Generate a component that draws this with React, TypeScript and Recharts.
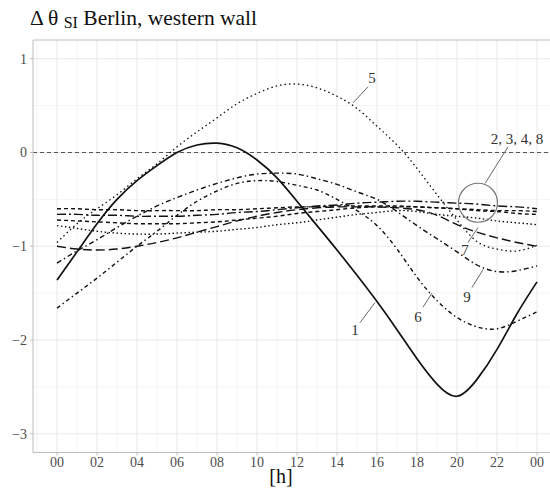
import { LineChart, Line, XAxis, YAxis, ReferenceLine, ReferenceDot } from "recharts";

const FONT = "'Liberation Serif', 'Times New Roman', Tinos, 'DejaVu Serif', serif";

// hours of the day
const hours = [0, 1, 2, 3, 4, 5, 6, 7, 8, 9, 10, 11, 12, 13, 14, 15, 16, 17, 18, 19, 20, 21, 22, 23, 24];

// Δθ_SI per variant
const v1 = [-1.36, -1.06, -0.76, -0.5, -0.3, -0.14, 0.0, 0.08, 0.1, 0.05, -0.08, -0.27, -0.52, -0.78, -1.04, -1.31, -1.59, -1.89, -2.2, -2.47, -2.6, -2.42, -2.1, -1.72, -1.38];
const v2 = [-0.6, -0.6, -0.61, -0.61, -0.62, -0.62, -0.62, -0.62, -0.61, -0.61, -0.6, -0.59, -0.58, -0.58, -0.57, -0.57, -0.57, -0.57, -0.58, -0.59, -0.6, -0.61, -0.62, -0.62, -0.63];
const v3 = [-0.66, -0.66, -0.67, -0.67, -0.68, -0.68, -0.68, -0.67, -0.66, -0.64, -0.63, -0.61, -0.59, -0.57, -0.56, -0.54, -0.53, -0.52, -0.52, -0.53, -0.54, -0.55, -0.57, -0.58, -0.6];
const v4 = [-0.72, -0.73, -0.74, -0.75, -0.76, -0.76, -0.76, -0.75, -0.74, -0.72, -0.7, -0.68, -0.65, -0.63, -0.61, -0.59, -0.58, -0.58, -0.58, -0.59, -0.6, -0.62, -0.63, -0.65, -0.66];
const v5 = [-0.96, -0.76, -0.6, -0.45, -0.28, -0.12, 0.06, 0.22, 0.37, 0.52, 0.63, 0.71, 0.73, 0.69, 0.6, 0.47, 0.28, 0.08, -0.17, -0.45, -0.72, -0.95, -1.03, -1.05, -0.99];
const v6 = [-1.66, -1.5, -1.34, -1.17, -1.0, -0.84, -0.67, -0.52, -0.41, -0.33, -0.3, -0.31, -0.35, -0.4, -0.5, -0.62, -0.78, -1.03, -1.33, -1.58, -1.76, -1.86, -1.88, -1.8, -1.7];
const v7 = [-1.0, -1.03, -1.04, -1.03, -1.0, -0.96, -0.91, -0.85, -0.79, -0.73, -0.68, -0.64, -0.61, -0.59, -0.58, -0.58, -0.58, -0.59, -0.61, -0.67, -0.77, -0.85, -0.91, -0.96, -1.0];
const v8 = [-0.78, -0.81, -0.84, -0.86, -0.87, -0.87, -0.86, -0.85, -0.84, -0.82, -0.8, -0.77, -0.75, -0.72, -0.69, -0.66, -0.64, -0.62, -0.63, -0.66, -0.68, -0.7, -0.73, -0.75, -0.77];
const v9 = [-1.18, -1.05, -0.93, -0.8, -0.68, -0.57, -0.48, -0.4, -0.33, -0.27, -0.23, -0.22, -0.23, -0.28, -0.34, -0.42, -0.5, -0.63, -0.78, -0.92, -1.06, -1.2, -1.27, -1.26, -1.21];

const xTicks = [0, 2, 4, 6, 8, 10, 12, 14, 16, 18, 20, 22, 24];
const xMinor = [-1, 1, 3, 5, 7, 9, 11, 13, 15, 17, 19, 21, 23, 25];
const yTicks = [-3, -2, -1, 0, 1];
const yMinor = [-2.5, -1.5, -0.5, 0.5];

const data = hours.map((h, i) => ({
  h,
  v1: v1[i], v2: v2[i], v3: v3[i], v4: v4[i], v5: v5[i],
  v6: v6[i], v7: v7[i], v8: v8[i], v9: v9[i],
}));

const series = [
  { key: "v7", dash: "9 4", width: 1.4 },
  { key: "v8", dash: "1.5 2.5", width: 1.4 },
  { key: "v4", dash: "4 3", width: 1.4 },
  { key: "v2", dash: "4 3", width: 1.4 },
  { key: "v3", dash: "9 3 2 3", width: 1.4 },
  { key: "v9", dash: "5 3 1.5 3", width: 1.4 },
  { key: "v6", dash: "4 3 1.5 3", width: 1.4 },
  { key: "v5", dash: "1.5 3", width: 1.3 },
  { key: "v1", dash: undefined, width: 1.7 },
];

// callout labels with leader lines, in data units
const notes = [
  { text: "5", at: [15.75, 0.79], from: [15.55, 0.7], to: [14.8, 0.53] },
  { text: "2, 3, 4, 8", at: [23.0, 0.14], from: [22.55, 0.06], to: [21.4, -0.33] },
  { text: "7", at: [20.4, -1.04], from: [20.55, -0.96], to: [21.05, -0.8] },
  { text: "9", at: [20.5, -1.54], from: [20.75, -1.44], to: [21.3, -1.25] },
  { text: "6", at: [18.05, -1.75], from: [18.3, -1.65], to: [18.75, -1.5] },
  { text: "1", at: [14.9, -1.89], from: [15.15, -1.815], to: [15.9, -1.6] },
];

const fmtX = (h: number) => String(h % 24).padStart(2, "0");
const fmtY = (v: number) => (v < 0 ? "\u2212" + Math.abs(v) : String(v));

export default function App() {
  return (
    <div style={{ position: "absolute", left: 0, top: 0, width: 550, height: 492, overflow: "hidden", background: "#fff", fontFamily: FONT }}>
      <div style={{ position: "absolute", left: 30, top: 5, fontSize: 21.5, lineHeight: "26px", color: "#111", whiteSpace: "nowrap", fontFamily: FONT }}>
        Δ θ <span style={{ fontSize: 16, position: "relative", top: 3 }}>SI</span> Berlin, western wall
      </div>
      <LineChart width={561} height={492} data={data} margin={{ top: 40, right: 0, bottom: 0, left: 0 }}>
        {xMinor.map((x) => (
          <ReferenceLine key={"xm" + x} x={x} stroke="#f4f4f4" strokeWidth={1} />
        ))}
        {yMinor.map((y) => (
          <ReferenceLine key={"ym" + y} y={y} stroke="#f4f4f4" strokeWidth={1} />
        ))}
        {xTicks.map((x) => (
          <ReferenceLine key={"xM" + x} x={x} stroke="#e9e9e9" strokeWidth={1} />
        ))}
        {yTicks.map((y) => (
          <ReferenceLine key={"yM" + y} y={y} stroke="#e9e9e9" strokeWidth={1} />
        ))}
        <ReferenceLine y={1.2} stroke="#bdbdbd" strokeWidth={1} />
        <ReferenceLine y={0} stroke="#555" strokeWidth={1} strokeDasharray="4 3" />
        <XAxis
          type="number"
          dataKey="h"
          domain={[-1.2, 25.2]}
          allowDataOverflow
          ticks={xTicks}
          tickFormatter={fmtX}
          height={39.5}
          tickSize={3}
          tickMargin={2}
          stroke="#bdbdbd"
          tick={{ fill: "#4d4d4d", fontSize: 14, fontFamily: FONT }}
        />
        <YAxis
          type="number"
          domain={[-3.2, 1.2]}
          allowDataOverflow
          ticks={yTicks}
          tickFormatter={fmtY}
          width={33}
          tickSize={3}
          tickMargin={3}
          stroke="#bdbdbd"
          tick={{ fill: "#4d4d4d", fontSize: 14, fontFamily: FONT }}
        />
        {series.map((s) => (
          <Line
            key={s.key}
            type="natural"
            dataKey={s.key}
            stroke="#111"
            strokeWidth={s.width}
            strokeDasharray={s.dash}
            dot={false}
            activeDot={false}
            isAnimationActive={false}
          />
        ))}
        <ReferenceDot x={21.05} y={-0.536} r={19.5} fill="none" stroke="#777" strokeWidth={1.2} />
        {notes.map((n) => (
          <ReferenceLine
            key={"l" + n.text}
            segment={[{ x: n.from[0], y: n.from[1] }, { x: n.to[0], y: n.to[1] }]}
            stroke="#666"
            strokeWidth={1}
          />
        ))}
        {notes.map((n) => (
          <ReferenceDot
            key={"t" + n.text}
            x={n.at[0]}
            y={n.at[1]}
            r={0}
            shape={(p: any) => (
              <text x={p.cx} y={p.cy} textAnchor="middle" dominantBaseline="central" fontSize={15} fontFamily={FONT} fill="#333">
                {n.text}
              </text>
            )}
          />
        ))}
      </LineChart>
      <div style={{ position: "absolute", left: 281, top: 464, transform: "translateX(-50%)", fontSize: 20, lineHeight: "24px", color: "#111", fontFamily: FONT }}>
        [h]
      </div>
    </div>
  );
}
